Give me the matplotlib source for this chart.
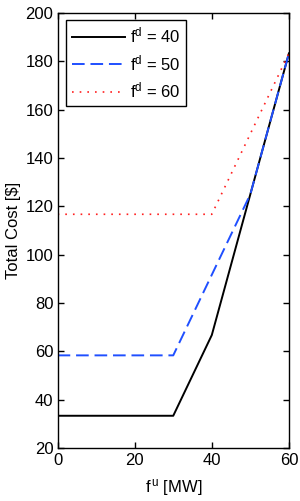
import matplotlib
matplotlib.use("Agg")
import matplotlib.pyplot as plt

plt.rcParams['font.family'] = ['Liberation Sans', 'DejaVu Sans']
plt.rcParams['mathtext.fontset'] = 'custom'
plt.rcParams['mathtext.rm'] = 'Liberation Sans'
plt.rcParams['mathtext.it'] = 'Liberation Sans:italic'

# Data
fu_40 = [0, 30, 40, 60]
cost_40 = [33.3, 33.3, 66.7, 183.3]
fu_50 = [0, 30, 50, 60]
cost_50 = [58.3, 58.3, 125.0, 183.3]
fu_60 = [0, 40, 60]
cost_60 = [116.7, 116.7, 183.3]
labels = ["f$^{\\mathrm{d}}$ = 40", "f$^{\\mathrm{d}}$ = 50", "f$^{\\mathrm{d}}$ = 60"]
xticks = [0, 20, 40, 60]
yticks = [20, 40, 60, 80, 100, 120, 140, 160, 180, 200]

fig = plt.figure(figsize=(3.0, 5.01), dpi=100)
ax = fig.add_axes([0.192, 0.106, 0.771, 0.868])

ax.plot(fu_40, cost_40, color='black', lw=1.4, linestyle='-', label=labels[0])
ax.plot(fu_50, cost_50, color='#1f4fff', lw=1.4, linestyle=(0, (6.5, 3)), label=labels[1])
ax.plot(fu_60, cost_60, color='#ff2020', lw=1.2, linestyle=(0, (1, 3.6)), label=labels[2])

ax.set_xlim(0, 60)
ax.set_ylim(20, 200)
ax.set_xticks(xticks)
ax.set_yticks(yticks)
ax.tick_params(direction='in', top=True, right=True, length=4, width=1.0, labelsize=12, pad=3)
ax.tick_params(axis='x', pad=4)
for s in ax.spines.values():
    s.set_linewidth(1.0)

ax.set_xlabel("f$^{\\,\\mathrm{u}}$ [MW]", fontsize=12, labelpad=6)
ax.set_ylabel("Total Cost [\\$]", fontsize=12, labelpad=3)

leg = ax.legend(loc='upper left', bbox_to_anchor=(0.035, 0.984), fontsize=12,
                frameon=True, fancybox=False, edgecolor='black', framealpha=1,
                handlelength=3.2, borderpad=0.35, labelspacing=0.45, handletextpad=0.3,
                borderaxespad=0)
leg.get_frame().set_linewidth(1.0)

fig.savefig("out.png", dpi=100)
